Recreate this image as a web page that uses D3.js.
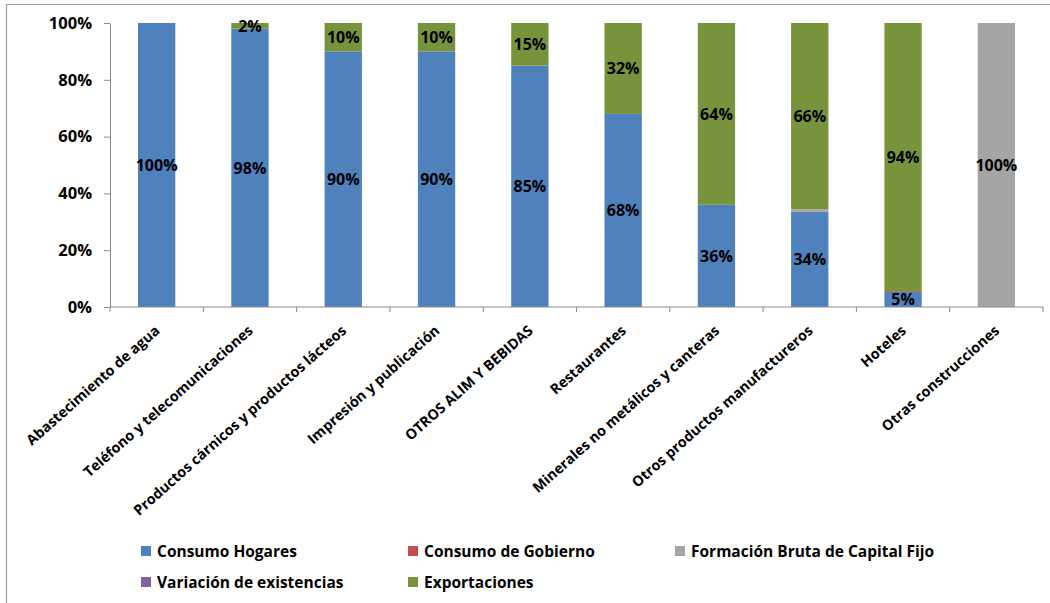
<!DOCTYPE html>
<html><head><meta charset="utf-8">
<script src="https://cdn.jsdelivr.net/npm/d3@7"></script>
<style>body{margin:0;background:#fff;} svg{display:block;font-family:"Open Sans",sans-serif;}</style>
</head><body><svg id="c" width="1050" height="603"></svg>
<script>
const categories = ["Abastecimiento de agua","Teléfono y telecomunicaciones","Productos cárnicos y productos lácteos","Impresión y publicación","OTROS ALIM Y BEBIDAS","Restaurantes","Minerales no metálicos y canteras","Otros productos manufactureros","Hoteles","Otras construcciones"];
const seriesNames = ["Consumo Hogares","Consumo de Gobierno","Formación Bruta de Capital Fijo","Variación de existencias","Exportaciones"];
const consumoHogares = [100,98,90,90,85,68,36,33.5,5.3,0];
const consumoGobierno = [0,0,0,0,0,0,0,0,0.3,0];
const formacionBruta = [0,0,0,0,0,0,0,0.9,0,100];
const variacionExist = [0,0,0,0,0,0,0,0,0,0];
const exportaciones = [0,2,10,10,15,32,64,65.6,94.4,0];
const yTicks = [0,20,40,60,80,100];
const colors = ["#4F81BD","#C0504D","#A5A5A5","#8064A2","#77933C"];

const svg = d3.select("#c");
svg.append("path").attr("d","M6.5,603 V4.5 H1050").attr("fill","none").attr("stroke","#A0A0A0").attr("stroke-width",1.2);

const x = d3.scaleBand().domain(categories).range([110,1043]).paddingInner(0.6).paddingOuter(0.3);
const y = d3.scaleLinear().domain([0,100]).range([307,23]);

const table = categories.map((c,i)=>({cat:c,s0:consumoHogares[i],s1:consumoGobierno[i],s2:formacionBruta[i],s3:variacionExist[i],s4:exportaciones[i]}));
const layers = d3.stack().keys(["s0","s1","s2","s3","s4"])(table);

const g = svg.append("g");
layers.forEach((layer,li)=>{
  g.selectAll(null).data(layer).enter().append("rect")
    .attr("x",d=>x(d.data.cat)).attr("width",x.bandwidth())
    .attr("y",d=>y(d[1])).attr("height",d=>y(d[0])-y(d[1]))
    .attr("fill",colors[li]);
});
layers.forEach((layer,li)=>{
  g.selectAll(null).data(layer.filter(d=>d[1]-d[0]>=1.5)).enter().append("text")
    .attr("x",d=>x(d.data.cat)+x.bandwidth()/2)
    .attr("y",d=>(y(d[0])+y(d[1]))/2)
    .attr("dy","0.36em").attr("text-anchor","middle")
    .attr("font-weight","bold").attr("font-size",16).attr("fill","#000")
    .text(d=>Math.round(d[1]-d[0])+"%");
});

const yAxis = d3.axisLeft(y).tickValues(yTicks).tickFormat(d=>d+"%").tickSize(6).tickSizeOuter(0);
const ya = svg.append("g").attr("transform","translate(110,0)").call(yAxis);
ya.select(".domain").attr("stroke","#8C8C8C");
ya.selectAll(".tick line").attr("stroke","#8C8C8C");
ya.selectAll(".tick text").attr("font-size",16.5).attr("font-weight","bold").attr("fill","#000").attr("font-family","Open Sans").attr("x",-18);

const xa = svg.append("g").attr("transform","translate(0,307)");
xa.append("line").attr("x1",110).attr("x2",1043).attr("y1",0).attr("y2",0).attr("stroke","#8C8C8C");
const edges = [110].concat(categories.map(c=>x(c)+x.bandwidth()+(x.step()-x.bandwidth())/2));
xa.selectAll(null).data(edges).enter().append("line")
  .attr("x1",d=>d).attr("x2",d=>d).attr("y1",0).attr("y2",5).attr("stroke","#8C8C8C");
xa.selectAll(null).data(categories).enter().append("text")
  .attr("transform",d=>`translate(${x(d)+x.bandwidth()/2+4},${25}) rotate(-41.5)`)
  .attr("text-anchor","end").attr("font-size",14.3).attr("font-weight","bold").attr("fill","#000")
  .text(d=>d);

const legendPos = [[141,551],[408,551],[675,551],[141,582],[408,582]];
seriesNames.forEach((n,i)=>{
  const [lx,ly] = legendPos[i];
  svg.append("rect").attr("x",lx).attr("y",ly-5).attr("width",10).attr("height",10).attr("fill",colors[i]);
  svg.append("text").attr("x",lx+16).attr("y",ly).attr("dy","0.36em").attr("font-size",15.5).attr("font-weight","bold").attr("fill","#000").text(n);
});
</script></body></html>
